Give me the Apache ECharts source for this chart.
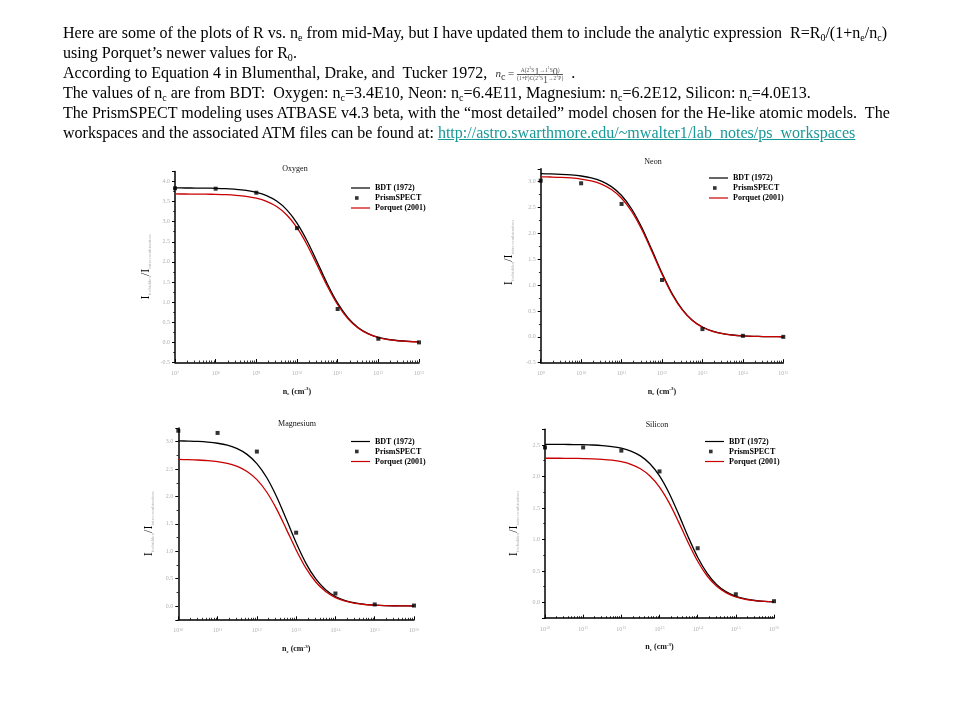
<!DOCTYPE html>
<html><head><meta charset="utf-8">
<script src="https://cdn.jsdelivr.net/npm/echarts@6/dist/echarts.min.js"></script>
<style>
html,body{margin:0;padding:0;background:#fff;}
#chart{position:absolute;left:0;top:0;width:960px;height:720px;}
#txt{position:absolute;left:63px;top:23px;font-family:'Liberation Serif','Times New Roman',serif;font-size:16px;line-height:20px;white-space:nowrap;color:#000;transform-origin:0 0;}
#txt .ln{display:block;height:20px;}
#txt .ln span.w{display:inline-block;}
#txt sub{font-size:10px;line-height:0;vertical-align:-3px;}
#txt a{color:#1a9898;text-decoration:underline;}
.eq{display:inline-block;vertical-align:middle;font-size:11px;line-height:11px;color:#333;}
.frac{display:inline-block;vertical-align:middle;font-size:5.5px;line-height:6.5px;text-align:center;color:#555;}
.frac .num{display:block;border-bottom:0.8px solid #555;padding:0 1px;}
.frac .den{display:block;}
.frac sub,.frac sup{font-size:4px;line-height:0;}
.eq sub.c{font-size:6px;vertical-align:-2px;}
</style></head>
<body>
<div id="chart"></div>
<div id="txt">
<div class="ln"><span class="w" id="l1">Here are some of the plots of R vs. n<sub>e</sub> from mid-May, but I have updated them to include the analytic expression&nbsp; R=R<sub>0</sub>/(1+n<sub>e</sub>/n<sub>c</sub>)</span></div>
<div class="ln"><span class="w">using Porquet’s newer values for R<sub>0</sub>.</span></div>
<div class="ln"><span class="w">According to Equation 4 in Blumenthal, Drake, and&nbsp; Tucker 1972, &nbsp;<span class="eq"><i>n</i><sub class="c">c</sub> = <span class="frac"><span class="num">A(2<sup>3</sup>S<sub>1</sub>→1<sup>1</sup>S<sub>0</sub>)</span><span class="den">(1+F)C(2<sup>3</sup>S<sub>1</sub>→2<sup>3</sup>P)</span></span></span> &nbsp;.</span></div>
<div class="ln"><span class="w">The values of n<sub>c</sub> are from BDT:&nbsp; Oxygen: n<sub>c</sub>=3.4E10, Neon: n<sub>c</sub>=6.4E11, Magnesium: n<sub>c</sub>=6.2E12, Silicon: n<sub>c</sub>=4.0E13.</span></div>
<div class="ln"><span class="w">The PrismSPECT modeling uses ATBASE v4.3 beta, with the “most detailed” model chosen for the He-like atomic models.&nbsp; The</span></div>
<div class="ln"><span class="w">workspaces and the associated ATM files can be found at: <a>http://astro.swarthmore.edu/~mwalter1/lab_notes/ps_workspaces</a></span></div>
</div>
<script>
// ---------------- data ----------------
const oxygenDensity = [1e7,1.778e7,3.162e7,5.623e7,1e8,1.778e8,3.162e8,5.623e8,1e9,1.778e9,3.162e9,5.623e9,1e10,1.778e10,3.162e10,5.623e10,1e11,1.778e11,3.162e11,5.623e11,1e12,1.778e12,3.162e12,5.623e12,1e13];
const oxygenBDT = [3.839,3.838,3.836,3.834,3.829,3.820,3.805,3.777,3.730,3.649,3.513,3.295,2.966,2.520,1.989,1.446,0.974,0.616,0.372,0.219,0.126,0.072,0.041,0.023,0.013];
const oxygenPorquet = [3.689,3.688,3.687,3.684,3.679,3.671,3.656,3.630,3.584,3.506,3.376,3.166,2.851,2.422,1.911,1.389,0.936,0.592,0.358,0.210,0.121,0.069,0.039,0.022,0.013];
const oxygenDecades = [1e7,1e8,1e9,1e10,1e11,1e12,1e13];
const oxygenPrism = [3.83,3.82,3.72,2.84,0.83,0.09,0.00];

const neonDensity = [1e9,1.778e9,3.162e9,5.623e9,1e10,1.778e10,3.162e10,5.623e10,1e11,1.778e11,3.162e11,5.623e11,1e12,1.778e12,3.162e12,5.623e12,1e13,1.778e13,3.162e13,5.623e13,1e14,1.778e14,3.162e14,5.623e14,1e15];
const neonBDT = [3.155,3.151,3.144,3.132,3.111,3.075,3.011,2.905,2.733,2.473,2.115,1.682,1.233,0.836,0.532,0.323,0.190,0.110,0.063,0.036,0.020,0.011,0.006,0.004,0.002];
const neonPorquet = [3.095,3.091,3.085,3.073,3.052,3.016,2.954,2.850,2.681,2.426,2.075,1.650,1.210,0.820,0.522,0.317,0.186,0.108,0.061,0.035,0.020,0.011,0.006,0.004,0.002];
const neonDecades = [1e9,1e10,1e11,1e12,1e13,1e14,1e15];
const neonPrism = [3.02,2.97,2.57,1.10,0.15,0.02,0.00];

const magnesiumDensity = [1e10,1.778e10,3.162e10,5.623e10,1e11,1.778e11,3.162e11,5.623e11,1e12,1.778e12,3.162e12,5.623e12,1e13,1.778e13,3.162e13,5.623e13,1e14,1.778e14,3.162e14,5.623e14,1e15,1.778e15,3.162e15,5.623e15,1e16];
const magnesiumBDT = [3.015,3.011,3.005,2.993,2.972,2.936,2.873,2.769,2.600,2.346,1.999,1.583,1.155,0.780,0.495,0.300,0.176,0.102,0.058,0.033,0.019,0.010,0.006,0.003,0.002];
const magnesiumPorquet = [2.676,2.672,2.666,2.656,2.637,2.605,2.550,2.457,2.308,2.082,1.774,1.405,1.025,0.692,0.439,0.266,0.156,0.090,0.051,0.029,0.017,0.009,0.005,0.003,0.002];
const magnesiumDecades = [1e10,1e11,1e12,1e13,1e14,1e15,1e16];
const magnesiumPrism = [3.20,3.16,2.82,1.34,0.23,0.03,0.01];

const siliconDensity = [1e10,1.778e10,3.162e10,5.623e10,1e11,1.778e11,3.162e11,5.623e11,1e12,1.778e12,3.162e12,5.623e12,1e13,1.778e13,3.162e13,5.623e13,1e14,1.778e14,3.162e14,5.623e14,1e15,1.778e15,3.162e15,5.623e15,1e16];
const siliconBDT = [2.509,2.509,2.508,2.506,2.504,2.499,2.490,2.475,2.449,2.403,2.326,2.201,2.008,1.737,1.402,1.043,0.717,0.461,0.282,0.167,0.097,0.055,0.031,0.018,0.010];
const siliconPorquet = [2.289,2.289,2.288,2.287,2.284,2.280,2.272,2.258,2.234,2.193,2.122,2.008,1.832,1.585,1.279,0.952,0.654,0.420,0.257,0.152,0.088,0.050,0.029,0.016,0.009];
const siliconDecades = [1e10,1e11,1e12,1e13,1e14,1e15,1e16];
const siliconPrism = [2.46,2.46,2.41,2.08,0.86,0.13,0.02];

const minorTickMultipliers = [2,3,4,5,6,7,8,9];
const seriesNames = ['BDT (1972)','PrismSPECT','Porquet (2001)'];

// ---------------- layout ----------------
const F = "'Liberation Serif','Times New Roman',serif";
const panels = [
  {title:'Oxygen', n:oxygenDensity, bdt:oxygenBDT, por:oxygenPorquet, dec:oxygenDecades, prism:oxygenPrism,
   grid:{left:175,top:171.4,width:244,height:191.1}, ymin:-0.5, ymax:4.25, split:10, showMin:true,
   tpos:[295,169], lpos:[351,184], yGap:23, yPad:0},
  {title:'Neon', n:neonDensity, bdt:neonBDT, por:neonPorquet, dec:neonDecades, prism:neonPrism,
   grid:{left:540.7,top:168.8,width:242.6,height:193.9}, ymin:-0.5, ymax:3.25, split:8, showMin:true,
   tpos:[653,162], lpos:[709,174], yGap:26, yPad:26},
  {title:'Magnesium', n:magnesiumDensity, bdt:magnesiumBDT, por:magnesiumPorquet, dec:magnesiumDecades, prism:magnesiumPrism,
   grid:{left:178.3,top:428,width:235.7,height:191.8}, ymin:-0.25, ymax:3.25, split:7, showMin:false,
   tpos:[297,424], lpos:[351,437.5], yGap:23, yPad:0},
  {title:'Silicon', n:siliconDensity, bdt:siliconBDT, por:siliconPorquet, dec:siliconDecades, prism:siliconPrism,
   grid:{left:545,top:429.2,width:229,height:189}, ymin:-0.25, ymax:2.75, split:6, showMin:false,
   tpos:[657,425], lpos:[705,437.5], yGap:25, yPad:0}
];

const squareIcon = 'path://M0,0L0,0M19,8L19,8M4,2.2H7.6V5.8H4Z';
const lineIcon = 'path://M0,0L0,0M19,8L19,8M0,3.4H19V4.6H0Z';
const gray = '#b0b0b0';
const red = '#c80000';

const grids = [], xAxes = [], yAxes = [], series = [], legends = [], graphics = [];
panels.forEach((p, i) => {
  grids.push(Object.assign({containLabel:false}, p.grid));
  const xmin = p.dec[0], xmax = p.dec[p.dec.length - 1];
  const minorVals = [];
  p.dec.slice(0, -1).forEach(d => minorTickMultipliers.forEach(m => minorVals.push(m * d)));
  xAxes.push({
    type:'log', logBase:10, gridIndex:i, min:xmin, max:xmax, position:'bottom',
    axisLine:{onZero:false, lineStyle:{color:'#000', width:1.5}},
    axisTick:{inside:true, length:3.5, lineStyle:{color:'#000', width:1}},
    axisLabel:{margin:8, formatter: v => '{a|10}{e|' + Math.round(Math.log10(v)) + '}',
      rich:{a:{fontSize:6, color:gray, fontFamily:F}, e:{fontSize:4, color:gray, fontFamily:F, verticalAlign:'top', lineHeight:6}}},
    splitLine:{show:false},
    name:'{b|n}{s|e}{b| (cm}{p|-3}{b|)}', nameLocation:'middle', nameGap:24,
    nameTextStyle:{rich:{
      b:{fontSize:8, fontWeight:'bold', fontFamily:F, color:'#111', lineHeight:10},
      s:{fontSize:5, fontWeight:'bold', fontFamily:F, color:'#111', verticalAlign:'bottom', lineHeight:10},
      p:{fontSize:5, fontWeight:'bold', fontFamily:F, color:'#111', verticalAlign:'top', lineHeight:10}}}
  });
  xAxes.push({
    type:'log', logBase:10, gridIndex:i, min:xmin, max:xmax, position:'bottom', offset:0,
    axisLine:{show:false, onZero:false}, axisLabel:{show:false}, splitLine:{show:false},
    axisTick:{show:true, inside:true, length:2, customValues:minorVals, lineStyle:{color:'#000', width:0.8}}
  });
  yAxes.push({
    type:'value', gridIndex:i, min:p.ymin, max:p.ymax, splitNumber:p.split,
    axisLine:{show:true, onZero:false, lineStyle:{color:'#000', width:1.5}},
    axisTick:{show:true, inside:false, length:3, lineStyle:{color:'#000', width:1}},
    minorTick:{show:true, splitNumber:2, length:1.8, lineStyle:{color:'#000', width:0.8}},
    splitLine:{show:false}, minorSplitLine:{show:false},
    axisLabel:{formatter: v => v.toFixed(1), fontSize:6, color:gray, fontFamily:F, margin:5,
      showMaxLabel:false, showMinLabel:p.showMin},
    name:'{I|I}{s|forbidden}{I|/I}{s|intercombination}', nameLocation:'middle', nameRotate:90, nameGap:p.yGap,
    nameTextStyle:{padding:[0,0,0,p.yPad], rich:{
      I:{fontSize:12, fontFamily:F, color:'#000', lineHeight:12},
      s:{fontSize:5, fontFamily:F, color:gray, verticalAlign:'bottom', lineHeight:12}}}
  });
  series.push({
    type:'line', name:seriesNames[0], xAxisIndex:2*i, yAxisIndex:i,
    data:p.n.map((x, k) => [x, p.bdt[k]]), symbol:'none', smooth:0.3,
    lineStyle:{color:'#000', width:1.3}, itemStyle:{color:'#000'}, z:2, animation:false
  });
  series.push({
    type:'line', name:seriesNames[2], xAxisIndex:2*i, yAxisIndex:i,
    data:p.n.map((x, k) => [x, p.por[k]]), symbol:'none', smooth:0.3,
    lineStyle:{color:red, width:1.3}, itemStyle:{color:red}, z:3, animation:false
  });
  series.push({
    type:'scatter', name:seriesNames[1], xAxisIndex:2*i, yAxisIndex:i,
    data:p.dec.map((x, k) => [x, p.prism[k]]), symbol:'rect', symbolSize:4, clip:false,
    itemStyle:{color:'#000'}, z:4, animation:false
  });
  legends.push({
    left:p.lpos[0], top:p.lpos[1], orient:'vertical', itemWidth:19, itemHeight:8, itemGap:2,
    selectedMode:false, padding:0,
    textStyle:{fontFamily:F, fontWeight:'bold', fontSize:8, color:'#000'},
    data:[{name:seriesNames[0], icon:lineIcon}, {name:seriesNames[1], icon:squareIcon}, {name:seriesNames[2], icon:lineIcon}]
  });
  graphics.push({type:'text', x:p.tpos[0], y:p.tpos[1], silent:true,
    style:{text:p.title, fontFamily:F, fontSize:8, fill:'#111', align:'center', verticalAlign:'middle'}});
});

const chart = echarts.init(document.getElementById('chart'), null, {renderer:'canvas'});
chart.setOption({
  backgroundColor:'#fff', animation:false,
  grid:grids, xAxis:xAxes, yAxis:yAxes, series:series, legend:legends, graphic:graphics
});

// fit header paragraph width to the slide text block
const l1 = document.getElementById('l1');
const w = l1.getBoundingClientRect().width;
const s = 824 / w;
document.getElementById('txt').style.transform = 'scaleX(' + s + ')';
</script>
</body></html>
